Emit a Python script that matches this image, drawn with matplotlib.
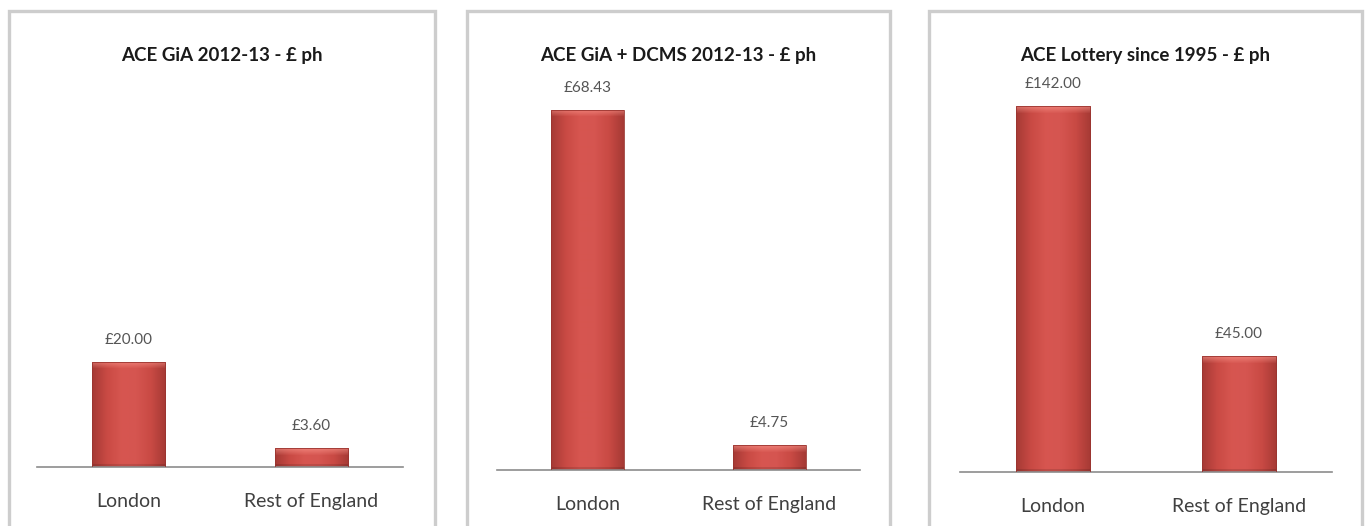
import numpy as np
import matplotlib
matplotlib.use("Agg")
import matplotlib.pyplot as plt
from matplotlib.patches import Rectangle
from matplotlib.colors import LinearSegmentedColormap

# ---- data ----
categories = ["London", "Rest of England"]
titles = ["ACE GiA 2012-13 - £ ph",
          "ACE GiA + DCMS 2012-13 - £ ph",
          "ACE Lottery since 1995 - £ ph"]
gia_values = [20.00, 3.60]
gia_dcms_values = [68.43, 4.75]
lottery_values = [142.00, 45.00]
series = [gia_values, gia_dcms_values, lottery_values]

# ---- style / layout (pixels) ----
W, H = 1368, 526
FONT = ["Lato", "DejaVu Sans"]
plt.rcParams["font.family"] = FONT

panels = [(9, 435), (467, 890), (929, 1362)]          # panel box x-extents
axes_x = [(37, 403), (497, 860), (960, 1332)]          # plot area x-extents
baselines = [467, 470, 472]                            # baseline y (from top)
axes_top = 80
ymax = [73.7, 74.1, 152.1]

fig = plt.figure(figsize=(W / 100, H / 100), dpi=100)
fig.patch.set_facecolor("white")

# panel frames
for (x0, x1) in panels:
    r = Rectangle((x0 / W, 1 - 530 / H), (x1 - x0) / W, (530 - 11) / H,
                  transform=fig.transFigure, facecolor="white",
                  edgecolor="#cdcdcd", linewidth=2.4, zorder=0)
    fig.add_artist(r)

cmap = LinearSegmentedColormap.from_list(
    "bar", ["#a63a35", "#c94a44", "#d75650", "#d55550", "#c94a44", "#a63a35"])

def gradient_bar(ax, bar):
    x0, y0 = bar.get_x(), bar.get_y()
    w, h = bar.get_width(), bar.get_height()
    p0 = ax.transData.transform((x0, y0))
    p1 = ax.transData.transform((x0 + w, y0 + h))
    hpx = max(int(round(p1[1] - p0[1])), 2)
    wpx = max(int(round(p1[0] - p0[0])), 2)
    xs = np.linspace(0, 1, wpx)
    base = cmap(xs)[:, :3]
    img = np.tile(base[None, :, :], (hpx, 1, 1))
    bevel = min(7, hpx // 2)
    for i in range(bevel):
        f = 0.55 * (1 - i / bevel)
        img[i] = img[i] * (1 - f) + np.array([1.0, 0.62, 0.58]) * f
    for i in range(min(3, hpx)):
        img[hpx - 1 - i] *= 0.88
    im = ax.imshow(img, extent=(x0, x0 + w, y0, y0 + h), aspect="auto",
                   origin="upper", zorder=2, interpolation="bilinear")
    im.set_clip_path(bar)
    bar.set_facecolor("none")

for k in range(3):
    ax0, ax1 = axes_x[k]
    b = baselines[k]
    ax = fig.add_axes([ax0 / W, 1 - b / H, (ax1 - ax0) / W, (b - axes_top) / H])
    ax.set_xlim(-0.5, 1.5)
    ax.set_ylim(0, ymax[k])
    x = np.arange(len(categories))
    bars = ax.bar(x, series[k], width=0.40, color="#c94a44",
                  edgecolor="#9a3530", linewidth=0.6, zorder=3)
    fig.canvas.draw()
    for bar in bars:
        gradient_bar(ax, bar)
    for xi, v in zip(x, series[k]):
        ax.annotate(f"£{v:.2f}", (xi, v), xytext=(0, 16), textcoords="offset points",
                    ha="center", va="center", fontsize=11, color="#555555")
    for s in ["left", "right", "top"]:
        ax.spines[s].set_visible(False)
    ax.spines["bottom"].set_color("#8c8c8c")
    ax.spines["bottom"].set_linewidth(1.2)
    ax.set_yticks([])
    ax.set_xticks(x)
    ax.set_xticklabels(categories, fontsize=14, color="#404040")
    ax.tick_params(axis="x", length=0, pad=19)
    ax.patch.set_alpha(0)
    cx = (panels[k][0] + panels[k][1]) / 2
    fig.text(cx / W, 1 - 55 / H, titles[k], ha="center", va="center",
             fontsize=13.5, fontweight="bold", color="#1a1a1a")

fig.savefig("out.png", dpi=100)
